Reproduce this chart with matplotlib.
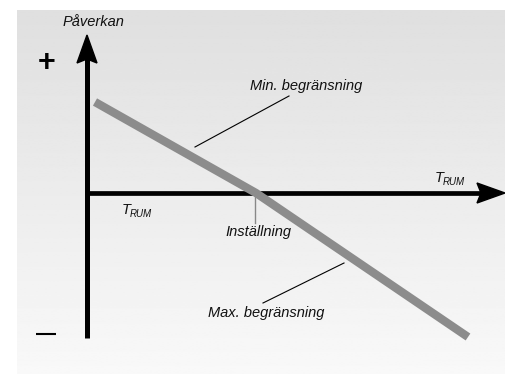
import numpy as np
import matplotlib.pyplot as plt
from matplotlib.patches import Polygon

plt.rcParams['font.family'] = ['Liberation Sans', 'DejaVu Sans']

# Diagram in its own units: origin where the two axes cross, y pointing up
room_temp = [8, 169, 381]      # T_RUM along the gray curve
effect = [91, 0, -144]         # Påverkan along the gray curve
setpoint = room_temp[1]

y_axis_bottom, y_axis_top = -145, 158
x_axis_end = 418

fig = plt.figure(figsize=(5.06, 3.74), dpi=100)
ax = fig.add_axes([0, 0, 1, 1])
ax.set_xlim(-87, 419)
ax.set_ylim(-181, 193)
ax.set_aspect('auto')
ax.axis('off')

# soft gray gradient background panel
grad = np.linspace(0.875, 0.975, 256).reshape(-1, 1)
ax.imshow(grad, cmap='gray', vmin=0, vmax=1, aspect='auto',
          extent=[-70, 419, -181, 183], origin='upper', zorder=0)


def arrow_head(tip, direction, length=28, width=20, notch=4):
    d = np.array(direction, float)
    n = np.array([-d[1], d[0]])
    tip = np.array(tip, float)
    base = tip - d * length
    pts = [tip, base + n * width / 2, base + d * notch, base - n * width / 2]
    ax.add_patch(Polygon(pts, closed=True, color='black', zorder=4))


# axes with arrows
ax.plot([0, 0], [y_axis_bottom, y_axis_top - 20], color='black', lw=3.6,
        solid_capstyle='butt', zorder=3)
arrow_head((0, y_axis_top), (0, 1))
ax.plot([0, x_axis_end - 20], [0, 0], color='black', lw=3.4,
        solid_capstyle='butt', zorder=3)
arrow_head((x_axis_end, 0), (1, 0))

# influence curve
ax.plot(room_temp, effect, color='#8c8c8c', lw=6, solid_capstyle='butt',
        solid_joinstyle='miter', zorder=5)

txt = dict(style='italic', fontsize=10.5, color='#111111')
ax.text(6, 171, 'Påverkan', ha='center', va='center', **txt)
ax.text(-40, 130, '+', ha='center', va='center', fontsize=22,
        fontweight='bold', color='black')
ax.plot([-51, -31], [-141, -141], color='black', lw=1.5,
        solid_capstyle='butt')

# leaders and labels
ax.plot([108, 202], [46, 97], color='black', lw=0.8, zorder=2)
ax.text(219, 107, 'Min. begränsning', ha='center', va='center', **txt)

ax.plot([setpoint - 1, setpoint - 1], [0, -30], color='#888888', lw=1.0,
        zorder=2)
ax.text(171, -39, 'Inställning', ha='center', va='center', **txt)

ax.plot([176, 257], [-110, -70], color='black', lw=0.8, zorder=2)
ax.text(179, -120, 'Max. begränsning', ha='center', va='center', **txt)

# T_RUM labels
for x0, y0 in [(348, 11), (35, -21)]:
    ax.text(x0, y0, 'T', ha='left', va='baseline', **txt)
    ax.text(x0 + 8, y0 - 3, 'RUM', ha='left', va='baseline', style='italic',
            fontsize=7, color='#111111', fontstretch='condensed')

fig.savefig('out.png', dpi=100)
